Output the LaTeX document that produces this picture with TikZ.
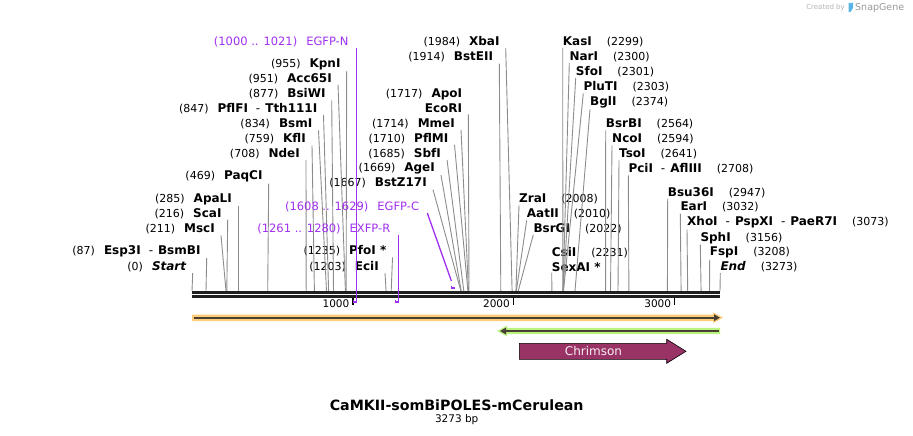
\documentclass[tikz,border=0pt]{standalone}
\usepackage{fontspec}
\setmainfont{DejaVu Sans}
\usepackage{tikz}
\usetikzlibrary{arrows.meta}
\usepackage{xcolor}
\definecolor{ColPrimer}{RGB}{160,48,240}
\definecolor{ColCut}{RGB}{140,140,140}
\definecolor{ColOrange}{RGB}{255,204,120}
\definecolor{ColGreen}{RGB}{188,242,128}
\definecolor{ColFeatLine}{RGB}{72,64,52}
\definecolor{ColChrimson}{RGB}{153,51,102}
\definecolor{ColLogo}{RGB}{90,180,230}
\tikzstyle{CutLabelL}=[anchor=east,inner xsep=6pt,inner ysep=1pt,
font=\bfseries\fontsize{12}{15}\selectfont]
\tikzstyle{CutLabelR}=[anchor=west,inner xsep=0pt,inner ysep=1pt,
font=\bfseries\fontsize{12}{15}\selectfont]
\tikzstyle{CutLine}=[ColCut,line width=0.9pt]
\tikzstyle{PrimerLabel}=[anchor=east,inner xsep=8pt,inner ysep=1pt,text=ColPrimer,
font=\fontsize{11.5}{14}\selectfont]
\tikzstyle{PrimerLine}=[ColPrimer,line width=1.3pt]
\tikzstyle{Backbone}=[black!88,line width=2.8pt]
\tikzstyle{TickMark}=[black,line width=1.6pt]
\tikzstyle{TickLabel}=[anchor=east,inner sep=1pt,font=\fontsize{10.5}{12}\selectfont]
\tikzstyle{FeatLine}=[ColFeatLine,line width=2pt,-{Triangle[length=6pt,width=6.5pt]}]
\newcommand{\CutNum}[1]{{\mdseries\fontsize{11}{13}\selectfont(#1)}}
\newcommand{\CutDash}{{\mdseries\hspace{8pt}-\hspace{5pt}}}

\begin{document}
\begin{tikzpicture}[x=1pt,y=-1pt]
        \useasboundingbox(0,0)rectangle(913,436);
        % cut sites on the backbone
        \coordinate(s0)at(192.0,291);
        \coordinate(s87)at(206.0,291);
        \coordinate(s211)at(226.0,291);
        \coordinate(s216)at(226.8,291);
        \coordinate(s285)at(238.0,291);
        \coordinate(s469)at(267.7,291);
        \coordinate(s708)at(306.2,291);
        \coordinate(s759)at(314.4,291);
        \coordinate(s834)at(326.5,291);
        \coordinate(s847)at(328.6,291);
        \coordinate(s877)at(333.5,291);
        \coordinate(s951)at(345.4,291);
        \coordinate(s955)at(346.1,291);
        \coordinate(s1203)at(386.1,291);
        \coordinate(s1235)at(391.2,291);
        \coordinate(s1667)at(460.9,291);
        \coordinate(s1669)at(461.2,291);
        \coordinate(s1685)at(463.8,291);
        \coordinate(s1710)at(467.9,291);
        \coordinate(s1714)at(468.5,291);
        \coordinate(s1717)at(469.0,291);
        \coordinate(s1914)at(500.8,291);
        \coordinate(s1984)at(512.1,291);
        \coordinate(s2008)at(515.9,291);
        \coordinate(s2010)at(516.3,291);
        \coordinate(s2022)at(518.2,291);
        \coordinate(s2231)at(551.9,291);
        \coordinate(s2299)at(562.9,291);
        \coordinate(s2300)at(563.0,291);
        \coordinate(s2301)at(563.2,291);
        \coordinate(s2303)at(563.5,291);
        \coordinate(s2374)at(575.0,291);
        \coordinate(s2564)at(605.6,291);
        \coordinate(s2594)at(610.5,291);
        \coordinate(s2641)at(618.0,291);
        \coordinate(s2708)at(628.9,291);
        \coordinate(s2947)at(667.4,291);
        \coordinate(s3032)at(681.1,291);
        \coordinate(s3073)at(687.7,291);
        \coordinate(s3156)at(701.1,291);
        \coordinate(s3208)at(709.5,291);
        \coordinate(s3273)at(720.0,291);

        % enzymes, left side
        \node[CutLabelL](start)at(192.7,266.7){\CutNum{0}\hspace{9pt}\textit{Start}};
        \node[CutLabelL](esp3i)at(206.7,251){\CutNum{87}\hspace{9pt}Esp3I\CutDash BsmBI};
        \node[CutLabelL](msci)at(221,229){\CutNum{211}\hspace{9pt}MscI};
        \node[CutLabelL](scai)at(227.7,213.3){\CutNum{216}\hspace{9pt}ScaI};
        \node[CutLabelL](apali)at(238,199){\CutNum{285}\hspace{9pt}ApaLI};
        \node[CutLabelL](paqci)at(268.7,176.7){\CutNum{469}\hspace{9pt}PaqCI};
        \node[CutLabelL](ndei)at(306,153.3){\CutNum{708}\hspace{9pt}NdeI};
        \node[CutLabelL](kfli)at(312,139){\CutNum{759}\hspace{9pt}KflI};
        \node[CutLabelL](bsmi)at(318.5,124){\CutNum{834}\hspace{9pt}BsmI};
        \node[CutLabelL](pflfi)at(323.5,108.3){\CutNum{847}\hspace{9pt}PflFI\CutDash Tth111I};
        \node[CutLabelL](bsiwi)at(331.7,94){\CutNum{877}\hspace{9pt}BsiWI};
        \node[CutLabelL](acc65i)at(338,78.3){\CutNum{951}\hspace{9pt}Acc65I};
        \node[CutLabelL](kpni)at(346.7,64){\CutNum{955}\hspace{9pt}KpnI};
        \node[CutLabelL](ecii)at(385,266.7){\CutNum{1203}\hspace{9pt}EciI};
        \node[CutLabelL](pfoi)at(392.5,251){\CutNum{1235}\hspace{9pt}PfoI *};
        \node[CutLabelL](bstz)at(433,183.3){\CutNum{1667}\hspace{9pt}BstZ17I};
        \node[CutLabelL](agei)at(441,168.3){\CutNum{1669}\hspace{9pt}AgeI};
        \node[CutLabelL](sbfi)at(447,153.3){\CutNum{1685}\hspace{9pt}SbfI};
        \node[CutLabelL](pflmi)at(454.5,138.3){\CutNum{1710}\hspace{9pt}PflMI};
        \node[CutLabelL](mmei)at(461,123.5){\CutNum{1714}\hspace{9pt}MmeI};
        \node[CutLabelL,align=right](ecori)at(468.3,101.2){\CutNum{1717}\hspace{9pt}ApoI\\EcoRI};
        \node[CutLabelL](bsteii)at(499.3,57.3){\CutNum{1914}\hspace{9pt}BstEII};
        \node[CutLabelL](xbai)at(505.7,41.7){\CutNum{1984}\hspace{9pt}XbaI};

        % enzymes, right side
        \node[CutLabelR](kasi)at(562.7,41.7){KasI\hspace{15pt}\CutNum{2299}};
        \node[CutLabelR](nari)at(569.3,56.7){NarI\hspace{15pt}\CutNum{2300}};
        \node[CutLabelR](sfoi)at(575.7,71.7){SfoI\hspace{15pt}\CutNum{2301}};
        \node[CutLabelR](pluti)at(583.3,87){PluTI\hspace{15pt}\CutNum{2303}};
        \node[CutLabelR](bgli)at(590,102.3){BglI\hspace{15pt}\CutNum{2374}};
        \node[CutLabelR](bsrbi)at(605.7,124){BsrBI\hspace{15pt}\CutNum{2564}};
        \node[CutLabelR](ncoi)at(612,139){NcoI\hspace{15pt}\CutNum{2594}};
        \node[CutLabelR](tsoi)at(619,154){TsoI\hspace{15pt}\CutNum{2641}};
        \node[CutLabelR](pcii)at(628.3,169){PciI\CutDash AflIII\hspace{15pt}\CutNum{2708}};
        \node[CutLabelR](zrai)at(519,199){ZraI\hspace{15pt}\CutNum{2008}};
        \node[CutLabelR](aatii)at(526.7,214){AatII\hspace{15pt}\CutNum{2010}};
        \node[CutLabelR](bsrgi)at(533.3,228.3){BsrGI\hspace{15pt}\CutNum{2022}};
        \node[CutLabelR,align=left](csii)at(551.7,259.2){CsiI\hspace{15pt}\CutNum{2231}\\SexAI *};
        \node[CutLabelR](bsu36i)at(667.7,192.3){Bsu36I\hspace{15pt}\CutNum{2947}};
        \node[CutLabelR](eari)at(680.3,207.3){EarI\hspace{15pt}\CutNum{3032}};
        \node[CutLabelR](xhoi)at(687,222.3){XhoI\CutDash PspXI\CutDash PaeR7I\hspace{15pt}\CutNum{3073}};
        \node[CutLabelR](sphi)at(700.3,237.7){SphI\hspace{15pt}\CutNum{3156}};
        \node[CutLabelR](fspi)at(709.7,252.7){FspI\hspace{15pt}\CutNum{3208}};
        \node[CutLabelR](endi)at(720.3,266.7){\textit{End}\hspace{15pt}\CutNum{3273}};

        \draw[CutLine](start.south east)--(s0);
        \draw[CutLine](esp3i.south east)--(s87);
        \draw[CutLine](msci.south east)--(s211);
        \draw[CutLine](scai.south east)--(s216);
        \draw[CutLine](apali.south east)--(s285);
        \draw[CutLine](paqci.south east)--(s469);
        \draw[CutLine](ndei.south east)--(s708);
        \draw[CutLine](kfli.south east)--(s759);
        \draw[CutLine](bsmi.south east)--(s834);
        \draw[CutLine](pflfi.south east)--(s847);
        \draw[CutLine](bsiwi.south east)--(s877);
        \draw[CutLine](acc65i.south east)--(s951);
        \draw[CutLine](kpni.south east)--(s955);
        \draw[CutLine](ecii.south east)--(s1203);
        \draw[CutLine](pfoi.south east)--(s1235);
        \draw[CutLine](bstz.south east)--(s1667);
        \draw[CutLine](agei.south east)--(s1669);
        \draw[CutLine](sbfi.south east)--(s1685);
        \draw[CutLine](pflmi.south east)--(s1710);
        \draw[CutLine](mmei.south east)--(s1714);
        \draw[CutLine](ecori.south east)--(s1717);
        \draw[CutLine](bsteii.south east)--(s1914);
        \draw[CutLine](xbai.south east)--(s1984);
        \draw[CutLine](kasi.south west)--(s2299);
        \draw[CutLine](nari.south west)--(s2300);
        \draw[CutLine](sfoi.south west)--(s2301);
        \draw[CutLine](pluti.south west)--(s2303);
        \draw[CutLine](bgli.south west)--(s2374);
        \draw[CutLine](bsrbi.south west)--(s2564);
        \draw[CutLine](ncoi.south west)--(s2594);
        \draw[CutLine](tsoi.south west)--(s2641);
        \draw[CutLine](pcii.south west)--(s2708);
        \draw[CutLine](zrai.south west)--(s2008);
        \draw[CutLine](aatii.south west)--(s2010);
        \draw[CutLine](bsrgi.south west)--(s2022);
        \draw[CutLine](csii.south west)--(s2231);
        \draw[CutLine](bsu36i.south west)--(s2947);
        \draw[CutLine](eari.south west)--(s3032);
        \draw[CutLine](xhoi.south west)--(s3073);
        \draw[CutLine](sphi.south west)--(s3156);
        \draw[CutLine](fspi.south west)--(s3208);
        \draw[CutLine](endi.south west)--(s3273);

        % backbone and ruler
        \draw[Backbone](192,292.4)--(720,292.4);
        \draw[Backbone](192,296.4)--(720,296.4);
        \draw[TickMark](352.7,298)--(352.7,305);
        \draw[TickMark](513.3,298)--(513.3,305);
        \draw[TickMark](674.6,298)--(674.6,305);
        \node[TickLabel](t1000)at(350.5,304){1000};
        \node[TickLabel](t2000)at(511,304){2000};
        \node[TickLabel](t3000)at(672.3,304){3000};

        % primers
        \node[PrimerLabel](egfpn)at(356.7,41.5){(1000 .. 1021)\hspace{9pt}EGFP-N};
        \node[PrimerLabel](egfpc)at(427.3,206.7){(1608 .. 1629)\hspace{9pt}EGFP-C};
        \node[PrimerLabel](exfpr)at(398.5,229){(1261 .. 1280)\hspace{9pt}EXFP-R};
        \coordinate(pn)at(356.7,302);
        \coordinate(pc)at(451.4,281);
        \coordinate(pr)at(398.5,302);
        \draw[PrimerLine](egfpn.south east)--(pn)--(353.3,302)--(353.3,299.5);
        \draw[PrimerLine](egfpc.south east)--(pc);
        \draw[PrimerLine](451.4,285.5)--(451.4,288)--(454.8,288);
        \draw[PrimerLine](exfpr.south east)--(pr)--(395.4,302)--(395.4,299.5);

        % features
        \fill[ColOrange](192,314.5)--(713,314.5)--(713,312.3)--(723,317.7)--(713,323.1)--(713,321)--(192,321)--cycle;
        \draw[FeatLine](193.5,317.7)--(720,317.7);
        \fill[ColGreen](720,327.8)--(507,327.8)--(507,325.6)--(497,331)--(507,336.4)--(507,334.2)--(720,334.2)--cycle;
        \draw[FeatLine](718.5,331)--(500,331);
        \draw[black,fill=ColChrimson,line width=0.6pt](519.3,343.3)--(666.7,343.3)--(666.7,339.3)--(686,351.3)--(666.7,363.3)--(666.7,359.3)--(519.3,359.3)--cycle;
        \node[text=ColChrimson!8,font=\fontsize{12}{14}\selectfont](chrimson)at(593.5,351.3){Chrimson};

        % title
        \node[font=\bfseries\fontsize{14.2}{16}\selectfont](title)at(456.7,405){CaMKII-somBiPOLES-mCerulean};
        \node[font=\fontsize{10.5}{12}\selectfont](size)at(456.7,420){3273 bp};

        % credit
        \node[anchor=east,inner sep=0pt,text=black!30,font=\fontsize{7}{8}\selectfont](credit)at(845,7.5){Created by};
        \fill[ColLogo](848.5,3)--(853,3)--(853,8)--(850.5,12)--(848.5,12)--cycle;
        \node[anchor=west,inner sep=0pt,text=black!40,font=\fontsize{9.5}{10}\selectfont](snap)at(855,7.5){SnapGene};
    \end{tikzpicture}
\end{document}
